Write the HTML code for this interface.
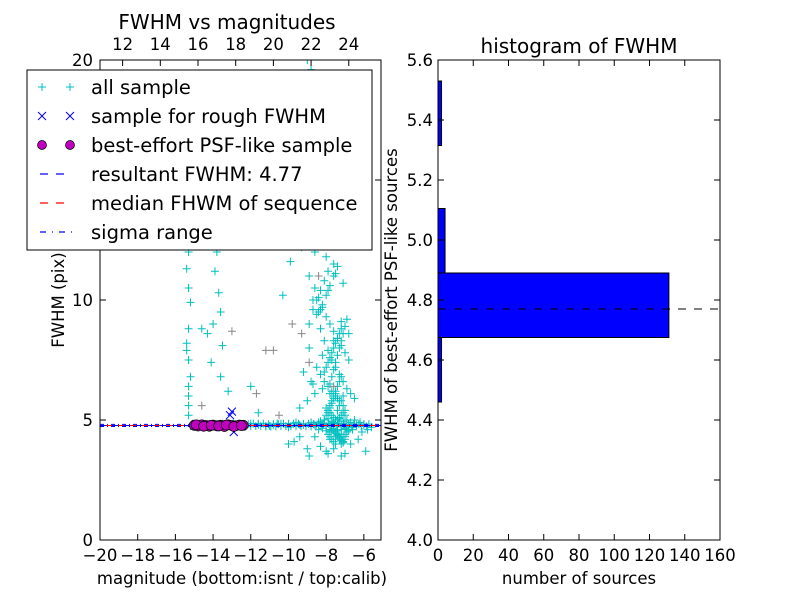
<!DOCTYPE html>
<html><head><meta charset="utf-8"><style>
body{margin:0;background:#fff;}
svg{font-family:"DejaVu Sans","Liberation Sans",sans-serif;}
</style></head><body>
<svg id="fig" width="800" height="600" viewBox="0 0 800 600" xmlns="http://www.w3.org/2000/svg">
<rect width="800" height="600" fill="#fff"/>
<g id="left"></g>
<g id="right"></g>
</svg>
<script>
// ---- scatter data (bottom magnitude, FWHM) ----
const allMag = [-15.3,-15.3,-15.2,-15.3,-15.4,-15.3,-15.2,-15.3,-15.4,-15.3,-15.3,-15.2,-15.3,-15.3,-15.2,-15.4,-15.3,-15.3,
 -13.8,-13.7,-13.6,-13.8,-13.9,-13.7,-13.6,-14.0,-14.3,-13.5,-14.6,-14.1,-13.6,-13.2,-12.0,-11.6,
 -10.2,-9.8,-9.5,-9.9,-10.3,-9.6,-9.1,-9.3,-8.9,-8.7,-8.5,-8.3,-8.1,-7.9,-7.7,-7.5,-7.3,-7.1,-6.9,-6.7,-6.5,
 -8.6,-8.4,-8.2,-8.0,-7.8,-7.6,-7.4,-7.2,-7.0,-6.8,-8.5,-8.3,-8.1,-7.9,-7.7,-7.5,-7.3,-7.1,-8.7,-8.2,-7.8,-7.4,
 -8.0,-7.9,-7.8,-7.7,-7.6,-7.5,-7.4,-7.3,-7.2,-7.1,-7.0,-7.6,-7.5,-7.4,-7.3,-7.8,-7.7,-7.2,-7.1,-7.0,-6.9,
 -8.8,-8.6,-8.4,-8.2,-8.0,-7.8,-7.6,-7.4,-7.2,-7.0,-6.8,-6.6,-6.4,-6.2,-6.0,-5.8,-5.6,
 -9.0,-9.4,-9.7,-10.0,-8.9,-8.3,-7.9,-7.5,-8.6,-8.0,-7.6,-7.2,-6.7,-7.0,-6.3,-6.1,-5.9,
 -12.0,-11.6,-11.2,-10.8,-10.4,-10.0,-9.6,-9.2,-12.4,-11.0,-10.6,-9.4,-8.8,-8.4,
 -9.4,-9.0,-8.6,-8.8,-9.2,-8.2,-7.6,-7.2,-6.8,-8.3,-7.9,-7.6,-7.3,
 -9.5,-9.2,-9.0,-8.8,-8.5,-8.1,-7.7,-7.3,-6.9,-8.6,-8.2,-8.0,-7.7,-7.4,-8.9,-8.3,-7.8,-7.5,-7.1,
 -7.9,-7.8,-7.7,-7.6,-7.5,-7.4,-7.3,-7.2,-7.1,-7.0,-7.9,-7.8,-7.7,-7.6,-7.5,-7.4,-7.3,-7.2,-7.1,-7.0,
 -8.1,-8.0,-7.9,-7.8,-7.7,-7.6,-7.5,-7.4,-7.3,-7.2,-8.1,-8.0,-7.9,-7.8,-7.7,-7.6,-7.5,-7.4,-7.3,-7.2,
 -7.8,-7.7,-7.6,-7.5,-7.4,-7.3,-7.2,-7.1,-7.0,-6.9,-7.8,-7.7,-7.6,-7.5,-7.4,-7.3,-7.2,-7.1,-7.0,-6.9,
 -8.3,-8.1,-7.9,-7.7,-7.5,-7.3,-7.1,-6.9,-6.7,-6.5,-8.4,-8.2,-8.0,-7.8,-7.6,-7.4,-7.2,-7.0,-6.8,-6.6,
 -8.4,-8.2,-8.0,-7.8,-7.6,-7.4,-8.6,-8.4,-8.2,-8.0,-7.8,-8.9,-8.7,-8.5,-8.3,-8.1,-7.9];
const allFwhm = [5.2,6.0,6.8,7.5,8.2,8.8,9.9,10.5,11.3,12.0,12.6,13.2,13.9,14.6,15.3,7.9,5.6,6.4,
 15.8,14.3,13.1,12.0,11.2,10.3,9.5,9.0,8.6,8.1,8.8,7.4,6.8,6.2,6.4,5.3,
 16.8,15.0,13.5,11.6,10.2,12.9,14.0,12.2,11.0,10.0,9.4,8.8,8.3,7.9,7.5,7.2,6.9,6.6,6.3,6.1,5.9,
 10.5,10.1,9.7,9.3,9.0,8.7,8.4,8.1,7.8,7.5,7.2,6.9,6.6,6.4,6.2,6.0,5.8,5.6,6.5,6.3,6.1,5.9,
 5.5,5.4,5.3,5.2,5.1,5.0,5.0,5.1,5.2,5.3,5.4,4.6,4.5,4.4,4.3,4.2,4.6,4.4,4.3,4.2,4.5,
 4.9,4.8,4.85,4.8,4.75,4.8,4.9,4.85,4.8,4.75,4.8,4.7,4.8,4.9,4.8,4.6,4.7,
 3.8,4.3,4.1,4.0,3.5,3.9,3.6,4.0,4.3,3.7,3.8,3.5,4.0,3.6,4.2,4.5,3.7,
 4.85,4.8,4.75,4.8,4.85,4.7,4.9,4.8,4.8,4.75,4.85,4.8,4.8,4.9,
 5.5,5.8,6.1,6.6,7.0,7.7,8.3,9.1,8.6,9.6,10.4,11.5,12.4,
 17.5,19.0,20.0,19.6,18.4,17.2,16.5,15.4,14.2,13.6,12.8,11.8,14.8,13.3,8.0,18.3,16.0,11.1,10.7,
 5.3,5.5,5.7,5.9,6.1,5.4,5.6,5.8,6.0,5.2,4.4,4.3,4.2,4.1,4.3,4.4,4.2,4.0,4.1,4.3,
 5.0,5.2,5.4,5.6,5.8,6.0,6.2,6.4,6.6,6.8,7.0,7.2,7.4,7.6,7.8,8.0,8.2,8.4,8.6,8.8,
 6.5,6.8,7.1,7.4,7.7,8.0,8.3,8.6,8.9,9.2,4.5,4.6,4.55,4.45,4.35,4.25,4.15,4.05,4.4,4.6,
 4.95,5.0,5.05,4.95,5.0,5.05,4.95,5.0,4.9,5.0,4.6,4.65,4.55,4.6,4.65,4.55,4.6,4.65,4.55,4.6,
 9.5,9.8,10.2,10.6,11.0,11.4,12.0,12.5,13.0,13.5,14.0,9.0,9.6,10.0,10.4,10.8,11.2];
const grayMag = [-11.2,-10.8,-10.5,-9.8,-9.3,-8.9,-8.4,-7.6,-14.6,-11.7,-13.0];
const grayFwhm = [7.9,7.9,5.2,9.0,8.6,7.4,11.0,6.4,5.6,6.1,8.7];
const roughMag = [-13.0,-12.9,-13.1,-14.0,-12.6,-13.5];
const roughFwhm = [5.35,4.5,5.2,4.7,4.8,4.75];
const psfMag = [-15.0,-14.8,-14.6,-14.4,-14.2,-14.0,-13.8,-13.6,-13.4,-13.2,-13.0,-12.8,-12.6,-12.4,-14.9,-14.5,-14.1,-13.7,-13.3,-12.9,-12.5];
const psfFwhm = [4.78,4.75,4.8,4.77,4.74,4.79,4.76,4.78,4.73,4.8,4.77,4.76,4.79,4.78,4.8,4.74,4.78,4.75,4.79,4.73,4.77];
const lineMag = [-20.0,-19.2,-18.4,-17.6,-16.8,-16.0,-15.2,-14.4,-13.6,-12.8,-12.0,-11.2,-10.4,-9.6,-8.8,-8.0,-7.2,-6.4,-5.6];
const lineFwhm = [4.78,4.77,4.79,4.78,4.8,4.76,4.8,4.78,4.8,4.78,4.8,4.78,4.8,4.79,4.78,4.8,4.77,4.78,4.8];
const resultFwhm = 4.77;
const sigmaLow = 4.73, sigmaHigh = 4.82;
const bottomTicks = [-20,-18,-16,-14,-12,-10,-8,-6];
const topTicks = [12,14,16,18,20,22,24];
const calibOffset = 30.8;
const leftYTicks = [0,5,10,15,20];
// ---- histogram data ----
const binEdges = [4.46,4.675,4.89,5.105,5.315,5.53];
const binCounts = [2,131,4,0,2];
const histXTicks = [0,20,40,60,80,100,120,140,160];
const histYTicks = [4.0,4.2,4.4,4.6,4.8,5.0,5.2,5.4,5.6];

const NS="http://www.w3.org/2000/svg";
const TICK=16.5, LAB=16.5, TITLE=20, LEG=19.5;
function mk(parent,tag,attrs,txt){const e=document.createElementNS(NS,tag);for(const k in attrs)e.setAttribute(k,attrs[k]);if(txt!==undefined)e.textContent=txt;parent.appendChild(e);return e;}

const L={x0:100,x1:381,y0:60,y1:540,mmin:-20,mmax:-5.09,fmin:0,fmax:20};
const lx=m=>L.x0+(m-L.mmin)/(L.mmax-L.mmin)*(L.x1-L.x0);
const ly=f=>L.y1-(f-L.fmin)/(L.fmax-L.fmin)*(L.y1-L.y0);
const left=document.getElementById('left');
const clip=mk(left,'clipPath',{id:'lc'});mk(clip,'rect',{x:L.x0,y:L.y0,width:L.x1-L.x0,height:L.y1-L.y0});
const plot=mk(left,'g',{'clip-path':'url(#lc)'});


function plus(g,x,y,c){mk(g,'path',{d:`M${x-4},${y}H${x+4}M${x},${y-4}V${y+4}`,stroke:c,'stroke-width':1,fill:'none'});}
const gAll=mk(plot,'g',{});


for(let i=0;i<allMag.length;i++)plus(gAll,lx(allMag[i]),ly(allFwhm[i]),'#00bfbf');
const gGray=mk(plot,'g',{});


for(let i=0;i<grayMag.length;i++)plus(gGray,lx(grayMag[i]),ly(grayFwhm[i]),'#888');
const gLine=mk(plot,'g',{});


for(let i=0;i<lineMag.length-1;i++){for(let k=0;k<6;k++){const m=lineMag[i]+k*0.133;if(m<-15.2)continue;plus(gLine,lx(m),ly(lineFwhm[i]+(k%2?0.05:-0.05)),'#00bfbf');}}
const gl=mk(plot,'g',{});


mk(gl,'line',{x1:L.x0,x2:L.x1,y1:ly(sigmaLow),y2:ly(sigmaLow),stroke:'#0000ff','stroke-dasharray':'4,3,1,3'});
mk(gl,'line',{x1:L.x0,x2:L.x1,y1:ly(sigmaHigh),y2:ly(sigmaHigh),stroke:'#0000ff','stroke-dasharray':'4,3,1,3'});
mk(gl,'line',{x1:L.x0,x2:L.x1,y1:ly(resultFwhm),y2:ly(resultFwhm),stroke:'#ff0000','stroke-dasharray':'6,6','stroke-dashoffset':6});
mk(gl,'line',{x1:L.x0,x2:L.x1,y1:ly(resultFwhm),y2:ly(resultFwhm),stroke:'#0000ff','stroke-dasharray':'6,6'});
const gR=mk(plot,'g',{});


for(let i=0;i<roughMag.length;i++){const x=lx(roughMag[i]),y=ly(roughFwhm[i]);mk(gR,'path',{d:`M${x-4},${y-4}L${x+4},${y+4}M${x-4},${y+4}L${x+4},${y-4}`,stroke:'#0000ff','stroke-width':1});}
const gP=mk(plot,'g',{});


for(let i=0;i<psfMag.length;i++)mk(gP,'circle',{cx:lx(psfMag[i]),cy:ly(psfFwhm[i]),r:5,fill:'#bf00bf',stroke:'#000','stroke-width':0.7});
mk(left,'rect',{x:L.x0,y:L.y0,width:L.x1-L.x0,height:L.y1-L.y0,fill:'none',stroke:'#000','stroke-width':1});
bottomTicks.forEach(t=>{const x=lx(t);mk(left,'line',{x1:x,x2:x,y1:L.y1,y2:L.y1-6,stroke:'#000'});
 const tx=mk(left,'text',{x:x,y:L.y1+21,'text-anchor':'middle','font-size':TICK},(t<0?'\u2212':'')+Math.abs(t));
 });
topTicks.forEach(t=>{const x=lx(t-calibOffset);mk(left,'line',{x1:x,x2:x,y1:L.y0,y2:L.y0+6,stroke:'#000'});
 const tx=mk(left,'text',{x:x,y:L.y0-10,'text-anchor':'middle','font-size':TICK},String(t));
 });
leftYTicks.forEach(t=>{const y=ly(t);mk(left,'line',{x1:L.x0,x2:L.x0+6,y1:y,y2:y,stroke:'#000'});mk(left,'line',{x1:L.x1,x2:L.x1-6,y1:y,y2:y,stroke:'#000'});
 const tx=mk(left,'text',{x:L.x0-7,y:y+6,'text-anchor':'end','font-size':TICK},String(t));
 });
let t1=mk(left,'text',{x:227,y:29,'text-anchor':'middle','font-size':TITLE},'FWHM vs magnitudes');

t1=mk(left,'text',{x:242,y:584,'text-anchor':'middle','font-size':LAB},'magnitude (bottom:isnt / top:calib)');

t1=mk(left,'text',{x:64,y:300,'text-anchor':'middle','font-size':LAB,transform:'rotate(-90 64 300)'},'FWHM (pix)');

const lg=mk(left,'g',{});


mk(lg,'rect',{x:27,y:70,width:345,height:180,fill:'#fff',stroke:'#000'});
const labels=['all sample','sample for rough FWHM','best-effort PSF-like sample','resultant FWHM: 4.77','median FHWM of sequence','sigma range'];
labels.forEach((s,i)=>{const y=87+i*29;const e=mk(lg,'g',{});
 
 [42,70].forEach(x=>{
  if(i==0)plus(e,x,y,'#00bfbf');
  if(i==1)mk(e,'path',{d:`M${x-4},${y-4}L${x+4},${y+4}M${x-4},${y+4}L${x+4},${y-4}`,stroke:'#0000ff'});
  if(i==2)mk(e,'circle',{cx:x,cy:y,r:4.5,fill:'#bf00bf',stroke:'#000','stroke-width':0.7});});
 if(i==3)mk(e,'line',{x1:40,x2:72,y1:y,y2:y,stroke:'#0000ff','stroke-dasharray':'8,8','stroke-width':1.2});
 if(i==4)mk(e,'line',{x1:40,x2:72,y1:y,y2:y,stroke:'#ff0000','stroke-dasharray':'8,8','stroke-width':1.2});
 if(i==5)mk(e,'line',{x1:40,x2:72,y1:y,y2:y,stroke:'#0000ff','stroke-dasharray':'6,6,1,6','stroke-width':1.2});
 mk(e,'text',{x:91,y:y+7,'font-size':LEG},s);});

const R={x0:438,x1:720,y0:60,y1:540,cmin:0,cmax:160,fmin:4.0,fmax:5.6};
const rx=c=>R.x0+(c-R.cmin)/(R.cmax-R.cmin)*(R.x1-R.x0);
const ry=f=>R.y1-(f-R.fmin)/(R.fmax-R.fmin)*(R.y1-R.y0);
const right=document.getElementById('right');
for(let i=0;i<binCounts.length;i++){if(!binCounts[i])continue;
 const b=mk(right,'rect',{x:rx(0),y:ry(binEdges[i+1]),width:rx(binCounts[i])-rx(0),height:ry(binEdges[i])-ry(binEdges[i+1]),fill:'#0000ff',stroke:'#000','stroke-width':1});
 }
const hl=mk(right,'line',{x1:R.x0,x2:R.x1,y1:ry(resultFwhm),y2:ry(resultFwhm),stroke:'#000','stroke-dasharray':'8,8'});

mk(right,'rect',{x:R.x0,y:R.y0,width:R.x1-R.x0,height:R.y1-R.y0,fill:'none',stroke:'#000'});
histXTicks.forEach(t=>{const x=rx(t);mk(right,'line',{x1:x,x2:x,y1:R.y1,y2:R.y1-6,stroke:'#000'});mk(right,'line',{x1:x,x2:x,y1:R.y0,y2:R.y0+6,stroke:'#000'});
 const tx=mk(right,'text',{x:x,y:R.y1+21,'text-anchor':'middle','font-size':TICK},String(t));
 });
histYTicks.forEach(t=>{const y=ry(t);mk(right,'line',{x1:R.x0,x2:R.x0+6,y1:y,y2:y,stroke:'#000'});mk(right,'line',{x1:R.x1,x2:R.x1-6,y1:y,y2:y,stroke:'#000'});
 const tx=mk(right,'text',{x:R.x0-5,y:y+6,'text-anchor':'end','font-size':TICK},t.toFixed(1));
 });
t1=mk(right,'text',{x:579,y:53,'text-anchor':'middle','font-size':TITLE},'histogram of FWHM');

t1=mk(right,'text',{x:579,y:584,'text-anchor':'middle','font-size':LAB},'number of sources');

t1=mk(right,'text',{x:397,y:300,'text-anchor':'middle','font-size':LAB,transform:'rotate(-90 397 300)'},'FWHM of best-effort PSF-like sources');

</script>
</body></html>
